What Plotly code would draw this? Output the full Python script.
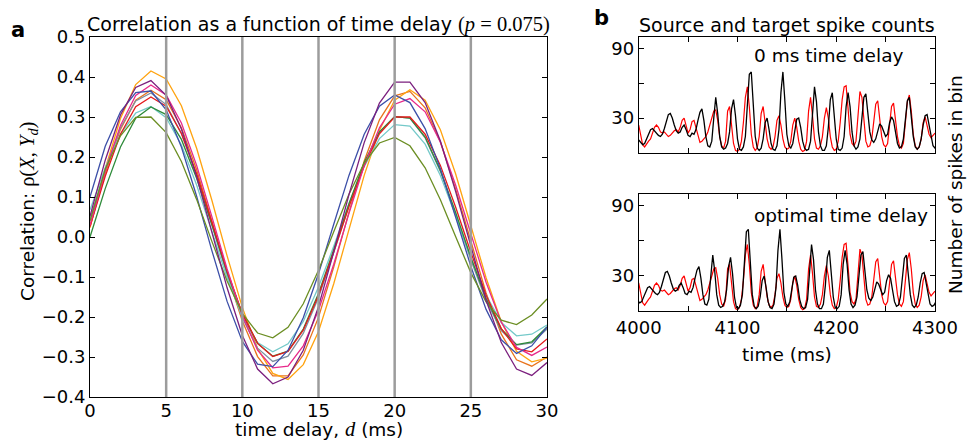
import plotly.graph_objects as go

# ---------------- Panel a data: correlation vs. time delay ----------------
delay_ms = list(range(0, 31))

corr_purple = [0.052, 0.192, 0.305, 0.374, 0.391, 0.354, 0.270, 0.151, 0.012, -0.127, -0.246,
               -0.330, -0.367, -0.350, -0.283, -0.174, -0.037, 0.106, 0.236, 0.335, 0.387,
               0.387, 0.336, 0.240, 0.114, -0.025, -0.158, -0.264, -0.330, -0.346, -0.314]
corr_orange = [0.023, 0.171, 0.296, 0.381, 0.415, 0.395, 0.328, 0.222, 0.092, -0.047, -0.176,
               -0.279, -0.341, -0.356, -0.319, -0.236, -0.117, 0.019, 0.154, 0.267, 0.342,
               0.368, 0.342, 0.268, 0.158, 0.028, -0.102, -0.212, -0.286, -0.312, -0.303]
corr_darkorange = [0.027, 0.159, 0.269, 0.342, 0.367, 0.343, 0.273, 0.168, 0.040, -0.092, -0.210,
                   -0.299, -0.347, -0.347, -0.295, -0.201, -0.075, 0.062, 0.190, 0.293, 0.353,
                   0.364, 0.323, 0.238, 0.120, -0.012, -0.140, -0.243, -0.307, -0.323, -0.300]
corr_pink = [0.029, 0.165, 0.279, 0.354, 0.380, 0.355, 0.285, 0.179, 0.051, -0.080, -0.197,
             -0.283, -0.327, -0.323, -0.272, -0.183, -0.068, 0.059, 0.178, 0.273, 0.332,
             0.346, 0.313, 0.237, 0.130, 0.007, -0.113, -0.213, -0.276, -0.296, -0.275]
corr_blue = [0.100, 0.227, 0.313, 0.361, 0.365, 0.318, 0.225, 0.102, -0.034, -0.161, -0.261,
             -0.318, -0.324, -0.283, -0.202, -0.092, 0.032, 0.154, 0.257, 0.327, 0.355,
             0.336, 0.271, 0.171, 0.050, -0.073, -0.181, -0.257, -0.291, -0.272, -0.225]
corr_red = [0.026, 0.152, 0.257, 0.326, 0.350, 0.327, 0.259, 0.158, 0.037, -0.085, -0.191,
            -0.266, -0.299, -0.286, -0.233, -0.146, -0.037, 0.076, 0.179, 0.258, 0.300,
            0.300, 0.257, 0.179, 0.075, -0.038, -0.145, -0.229, -0.280, -0.287, -0.255]
corr_slate = [0.045, 0.168, 0.273, 0.340, 0.360, 0.331, 0.259, 0.154, 0.030, -0.094, -0.202,
              -0.278, -0.311, -0.298, -0.241, -0.151, -0.039, 0.078, 0.183, 0.262, 0.301,
              0.297, 0.248, 0.164, 0.056, -0.057, -0.159, -0.234, -0.270, -0.265, -0.230]
corr_teal = [0.068, 0.173, 0.257, 0.310, 0.326, 0.298, 0.230, 0.130, 0.014, -0.102, -0.200,
             -0.264, -0.287, -0.267, -0.211, -0.125, -0.023, 0.083, 0.176, 0.246, 0.281,
             0.277, 0.232, 0.154, 0.054, -0.051, -0.145, -0.214, -0.247, -0.243, -0.220]
corr_green = [0.000, 0.121, 0.225, 0.297, 0.325, 0.306, 0.244, 0.147, 0.031, -0.088, -0.192,
              -0.266, -0.298, -0.285, -0.230, -0.141, -0.032, 0.083, 0.186, 0.263, 0.301,
              0.297, 0.250, 0.167, 0.062, -0.051, -0.153, -0.230, -0.269, -0.262, -0.225]
corr_olive = [0.040, 0.170, 0.253, 0.299, 0.300, 0.261, 0.189, 0.094, -0.011, -0.110, -0.191,
              -0.240, -0.252, -0.226, -0.167, -0.083, 0.013, 0.107, 0.185, 0.235, 0.249,
              0.228, 0.173, 0.093, 0.001, -0.089, -0.162, -0.208, -0.219, -0.195, -0.155]

corr_series = [
    ("#E8731C", corr_darkorange),
    ("#FFA30F", corr_orange),
    ("#7F8FA0", corr_slate),
    ("#74C9C9", corr_teal),
    ("#2E8B3A", corr_green),
    ("#E41A1C", corr_red),
    ("#E7298A", corr_pink),
    ("#3C4FA8", corr_blue),
    ("#6B8E23", corr_olive),
    ("#7B1F7E", corr_purple),
]

delay_ticks = [0, 5, 10, 15, 20, 25, 30]
delay_marks = [5, 10, 15, 20, 25]
corr_ticks = [-0.4, -0.3, -0.2, -0.1, 0.0, 0.1, 0.2, 0.3, 0.4, 0.5]

# ---------------- Panel b data: spike counts ----------------
time_black = list(range(4000, 4306, 2))
source_counts = [
    11, 9, 7, 8, 12, 17, 20, 21, 19, 17,
    15, 14, 16, 21, 28, 33, 34, 30, 24, 19,
    17, 18, 22, 24, 20, 15, 14, 17, 16, 20,
    28, 35, 38, 28, 14, 6, 5, 10, 30, 48,
    34, 14, 5, 3, 4, 8, 18, 38, 46, 32,
    12, 3, 2, 5, 14, 40, 68, 70, 42, 14,
    4, 2, 4, 12, 26, 30, 20, 8, 3, 2,
    6, 20, 52, 70, 45, 16, 6, 4, 8, 18,
    29, 30, 22, 10, 4, 2, 3, 10, 34, 57,
    44, 18, 6, 2, 2, 6, 22, 46, 52, 34,
    12, 3, 2, 4, 14, 40, 52, 40, 18, 6,
    3, 5, 12, 30, 48, 51, 34, 18, 11, 9,
    12, 20, 25, 23, 18, 14, 16, 26, 31, 28,
    18, 8, 4, 5, 12, 30, 45, 48, 32, 14,
    5, 3, 5, 12, 24, 32, 33, 24, 12, 6,
    4, 5, 8,
]
time_red = list(range(4000, 4302, 2))
target_counts = [
    24, 15, 7, 5, 8, 10, 12, 17, 22, 24,
    22, 18, 17, 18, 16, 14, 15, 17, 19, 20,
    18, 22, 28, 30, 24, 17, 20, 27, 28, 22,
    14, 9, 10, 12, 14, 18, 24, 30, 36, 37,
    28, 14, 6, 4, 10, 36, 40, 24, 8, 2,
    1, 3, 10, 26, 48, 57, 40, 16, 5, 2,
    4, 14, 34, 40, 28, 12, 5, 3, 5, 14,
    28, 32, 24, 12, 5, 3, 4, 10, 24, 30,
    22, 10, 3, 1, 2, 10, 36, 48, 32, 12,
    4, 3, 6, 14, 30, 39, 30, 14, 5, 2,
    3, 10, 26, 46, 57, 58, 38, 16, 8, 6,
    10, 30, 53, 48, 26, 10, 5, 6, 12, 26,
    42, 45, 30, 14, 7, 5, 8, 22, 40, 43,
    30, 14, 6, 4, 8, 24, 44, 50, 36, 16,
    6, 3, 5, 12, 26, 31, 24, 16, 13, 15,
    17,
]
optimal_delay_ms = 3
time_ticks = [4000, 4100, 4200, 4300]
time_minor_step = 50
count_ticks = [30, 90]
count_minor_step = 30

# ---------------- Figure ----------------
W, H = 968, 440
def fx(px):
    return px / W
def fy(py):
    return 1 - py / H

FONT = "DejaVu Sans"
SERIF = "Liberation Serif"
TICK_SIZE = 18
LABEL_SIZE = 18.5
TITLE_SIZE = 19

fig = go.Figure()

for color, vals in corr_series:
    fig.add_trace(go.Scatter(x=delay_ms, y=vals, mode="lines",
                             line=dict(color=color, width=1.3),
                             xaxis="x", yaxis="y", showlegend=False, hoverinfo="skip"))

shifted_time = [t - optimal_delay_ms for t in time_black]
for xa, ya, tb in [("x2", "y2", time_black), ("x3", "y3", shifted_time)]:
    fig.add_trace(go.Scatter(x=time_red, y=target_counts, mode="lines",
                             line=dict(color="#FF0000", width=1.2),
                             xaxis=xa, yaxis=ya, showlegend=False, hoverinfo="skip"))
    fig.add_trace(go.Scatter(x=tb, y=source_counts, mode="lines",
                             line=dict(color="#000000", width=1.3),
                             xaxis=xa, yaxis=ya, showlegend=False, hoverinfo="skip"))

for d in delay_marks:
    fig.add_shape(type="line", xref="x", yref="y domain", x0=d, x1=d, y0=0, y1=1,
                  line=dict(color="#9C9C9C", width=2.5), layer="above")

common = dict(showline=True, linecolor="black", linewidth=1, mirror="ticks",
              ticks="inside", ticklen=5, tickwidth=1, tickcolor="black",
              zeroline=False, showgrid=False, automargin=False,
              tickfont=dict(size=TICK_SIZE, color="black", family=FONT))

def minor(step, start):
    return dict(ticks="inside", ticklen=5, tickwidth=1, tickcolor="black",
                dtick=step, tick0=start, showgrid=False)

fig.update_layout(
    template="none",
    width=W, height=H,
    margin=dict(l=0, r=0, t=0, b=0, pad=0, autoexpand=False),
    paper_bgcolor="white", plot_bgcolor="white",
    font=dict(family=FONT, size=TICK_SIZE, color="black"),
    showlegend=False,
    xaxis=dict(domain=[fx(90), fx(547)], range=[0, 30], tickvals=delay_ticks,
               anchor="y", ticklabelstandoff=-3, **common),
    yaxis=dict(domain=[fy(397), fy(37)], range=[-0.4, 0.5], tickvals=corr_ticks,
               tickformat=".1f", anchor="x", **common),
    xaxis2=dict(domain=[fx(638.7), fx(935)], range=[4000, 4300], tickvals=time_ticks,
                showticklabels=False, minor=minor(time_minor_step, 4000),
                anchor="y2", **common),
    yaxis2=dict(domain=[fy(152.7), fy(37.3)], range=[0, 100], tickvals=count_ticks,
                minor=minor(count_minor_step, 0), anchor="x2", **common),
    xaxis3=dict(domain=[fx(638.7), fx(935)], range=[4000, 4300], tickvals=time_ticks,
                minor=minor(time_minor_step, 4000), anchor="y3", **common),
    yaxis3=dict(domain=[fy(311), fy(194.3)], range=[0, 100], tickvals=count_ticks,
                minor=minor(count_minor_step, 0), anchor="x3", **common),
)

def serif(s, size=20.5):
    return "<span style=\"font-family:'%s';font-size:%spx\">%s</span>" % (SERIF, size, s)

annotations = [
    dict(text="Correlation as a function of time delay " + serif("(<i>p</i> = 0.075)"),
         x=fx(318.5), y=fy(25), size=TITLE_SIZE),
    dict(text="time delay, " + serif("<i>d</i>") + " (ms)", x=fx(318.5), y=fy(428.5), size=LABEL_SIZE),
    dict(text="Correlation: " + serif("ρ(<i>X</i>, <i>Y<sub>d</sub></i>)"),
         x=fx(28), y=fy(212), size=LABEL_SIZE, angle=-90),
    dict(text="Source and target spike counts", x=fx(787), y=fy(25), size=TITLE_SIZE),
    dict(text="0 ms time delay", x=fx(828), y=fy(55), size=LABEL_SIZE),
    dict(text="optimal time delay", x=fx(840.5), y=fy(215), size=LABEL_SIZE),
    dict(text="time (ms)", x=fx(787), y=fy(354), size=LABEL_SIZE),
    dict(text="Number of spikes in bin", x=fx(956), y=fy(185), size=LABEL_SIZE, angle=-90),
    dict(text="<b>a</b>", x=fx(18), y=fy(30), size=21),
    dict(text="<b>b</b>", x=fx(601), y=fy(18), size=21),
]
for a in annotations:
    fig.add_annotation(text=a["text"], x=a["x"], y=a["y"], xref="paper", yref="paper",
                       xanchor="center", yanchor="middle", showarrow=False,
                       textangle=a.get("angle", 0),
                       font=dict(family=FONT, size=a["size"], color="black"))

fig.write_html("out.html")
